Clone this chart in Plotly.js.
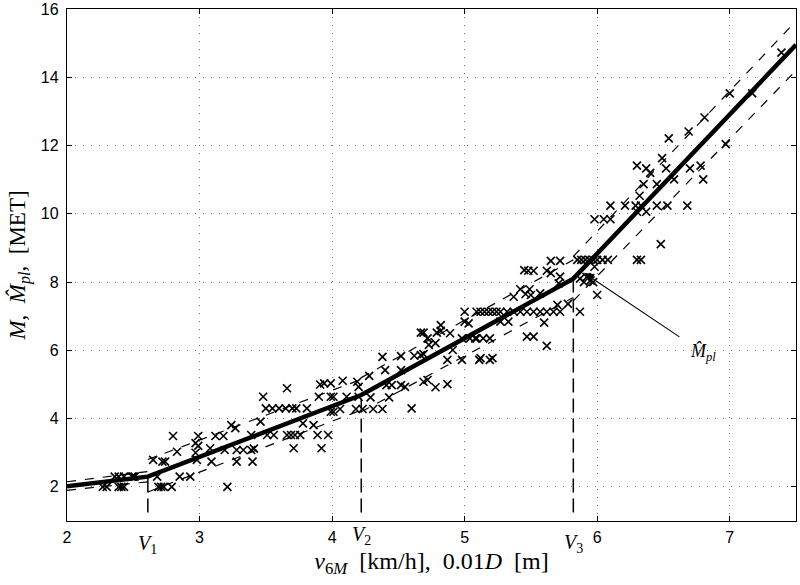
<!DOCTYPE html>
<html>
<head>
<meta charset="utf-8">
<script src="https://cdn.plot.ly/plotly-3.0.1.min.js"></script>
<style>html,body{margin:0;padding:0;background:#fff;}#chart{width:800px;height:585px;}</style>
</head>
<body>
<div id="chart"></div>
<script>
// Measured data (v6M, M)
const obsX = [
  2.27,2.30,2.39,2.41,2.43,2.36,2.39,2.43,2.49,2.50,2.51,
  2.68,2.69,2.71,2.73,2.79,2.85,2.93,2.65,2.72,2.74,2.80,2.83,2.97,2.98,2.99,2.99,2.97,
  3.08,3.09,3.12,3.18,3.19,3.21,3.24,3.27,3.28,3.28,3.33,3.39,3.41,3.40,3.39,3.46,3.48,
  3.51,3.56,3.66,3.69,3.72,3.76,3.50,3.55,3.60,3.65,3.70,3.73,3.66,3.71,3.78,3.81,3.86,3.89,3.92,3.94,3.90,3.97,3.99,3.99,3.99,3.91,
  4.01,4.01,4.06,4.08,4.11,4.18,4.19,4.20,4.20,4.23,4.28,4.29,4.31,4.38,4.38,4.40,4.41,4.43,4.45,4.52,4.52,4.52,4.55,
  4.60,4.62,4.67,4.69,4.67,4.69,4.69,4.72,4.72,4.73,4.78,4.78,4.79,4.82,4.82,4.87,4.87,4.89,4.91,4.98,4.98,5.00,5.00,
  5.03,5.04,5.09,5.14,5.19,5.08,5.12,5.21,5.11,5.19,5.09,5.12,5.15,5.18,5.21,5.24,5.27,5.32,5.37,5.42,5.47,5.27,5.33,5.37,5.42,5.46,5.49,5.47,5.45,5.48,
  5.50,5.52,5.52,5.52,5.57,5.57,5.60,5.62,5.62,5.62,5.65,5.65,5.67,5.70,5.71,5.72,5.72,5.72,5.78,5.87,5.85,5.88,5.91,5.94,5.97,6.00,6.04,6.08,5.87,5.90,5.92,5.95,5.97,5.98,6.00,5.98,
  6.05,6.10,6.10,6.21,6.29,6.33,6.45,6.53,6.68,6.30,6.37,6.30,6.33,6.48,6.32,6.35,6.45,6.58,6.80,6.30,6.37,6.40,6.52,6.70,6.78,6.49,6.54,6.69,6.81,6.97,7.00,7.17,7.39
];
const obsY = [
  2.00,2.00,2.00,2.00,2.00,2.30,2.30,2.30,2.30,2.30,2.30,
  2.30,2.00,2.00,2.00,2.00,2.30,2.30,2.79,2.74,2.74,3.49,3.03,3.28,2.79,3.20,3.49,3.00,
  3.13,2.74,3.49,3.49,3.08,2.00,3.81,3.72,3.08,2.74,3.08,3.08,3.12,2.74,3.52,3.91,4.64,
  3.52,3.52,3.52,3.52,3.52,3.52,4.30,4.30,4.30,4.30,4.30,4.30,4.89,3.13,3.86,4.30,3.81,3.52,3.13,5.03,4.64,3.52,4.64,5.03,4.20,5.00,
  4.64,4.20,4.28,5.11,4.64,4.28,5.08,4.93,4.64,4.28,5.25,4.62,4.28,4.28,5.81,5.42,4.98,4.62,4.98,4.98,5.42,5.83,4.93,
  4.30,5.84,5.86,5.89,6.52,6.52,5.08,5.13,6.35,6.16,6.21,4.92,6.52,6.57,6.74,5.01,5.72,6.50,6.01,5.72,6.35,7.13,6.84,
  6.79,6.35,6.35,6.35,6.35,6.35,5.77,5.77,5.72,5.72,7.13,7.13,7.13,7.13,7.13,7.13,7.13,7.13,7.13,7.13,7.13,6.84,6.84,7.57,7.79,7.65,7.79,6.40,8.35,8.33,
  7.62,8.33,6.40,7.13,7.13,7.67,6.81,8.33,6.13,7.13,8.62,8.26,7.13,7.33,7.96,8.62,8.16,7.13,7.36,7.13,8.65,8.65,8.65,8.65,8.65,8.65,8.65,8.65,8.10,8.00,8.15,8.05,8.00,8.45,7.62,9.84,
  9.84,9.84,10.24,10.24,10.24,10.24,10.24,10.24,10.24,10.06,10.06,8.65,8.65,9.11,10.53,10.87,10.87,11.01,11.01,11.41,11.33,11.20,11.33,11.33,11.41,11.63,12.21,12.41,12.82,12.04,13.53,13.53,14.72
];
// Piecewise-linear fit M_pl
const fitX = [2.0, 2.61, 4.22, 5.82, 7.5];
const fitY = [2.02, 2.3, 4.69, 8.1, 14.95];
// Confidence bands (per segment, separated by null)
const bandX     = [2.0, 2.61, null, 2.61, 4.22, null, 4.22, 5.82, null, 5.82, 7.5];
const bandUpper = [2.15, 2.45, null, 2.8, 5.15, null, 5.2, 8.65, null, 8.75, 15.65];
const bandLower = [1.9, 2.15, null, 1.85, 4.25, null, 4.2, 7.55, null, 7.45, 14.2];
// Breakpoints
const breakX = [2.61, 4.22, 5.82];
const breakY = [2.3, 4.69, 8.1];
const breakLabels = ['1', '2', '3'];
const breakBottom = 1.25;
const xTicks = [2, 3, 4, 5, 6, 7];
const yTicks = [2, 4, 6, 8, 10, 12, 14, 16];

const serif = 'Liberation Serif, DejaVu Serif, serif';
const sans = 'Liberation Sans, Arial, sans-serif';

const traces = [];
traces.push({x: obsX, y: obsY, mode: 'markers', type: 'scatter',
  marker: {symbol: 'x-thin-open', size: 8, color: '#000', line: {color: '#000', width: 1.6}},
  hoverinfo: 'skip'});
traces.push({x: bandX, y: bandUpper, mode: 'lines', type: 'scatter', connectgaps: false,
  line: {color: '#000', width: 1.2, dash: '9px,9px'}});
traces.push({x: bandX, y: bandLower, mode: 'lines', type: 'scatter', connectgaps: false,
  line: {color: '#000', width: 1.2, dash: '9px,9px'}});
breakX.forEach((bx, i) => {
  traces.push({x: [bx, bx], y: [breakBottom, breakY[i]], mode: 'lines', type: 'scatter',
    line: {color: '#000', width: 1.5, dash: '14px,6px'}});
});
traces.push({x: fitX, y: fitY, mode: 'lines', type: 'scatter',
  line: {color: '#000', width: 4.5}});

const labelShift = [-23, -14, -22];
const annotations = breakX.map((bx, i) => ({
  x: bx, y: 0, xref: 'x', yref: 'paper', yshift: labelShift[i], showarrow: false,
  text: '<i>V</i><sub>' + breakLabels[i] + '</sub>', font: {family: serif, size: 20, color: '#000'},
  xanchor: 'center', yanchor: 'middle'
}));
annotations.push({x: 5.9, y: 8.27, xref: 'x', yref: 'y', ax: 97, ay: 65, text: '',
  showarrow: true, arrowhead: 2, arrowsize: 1.8, arrowwidth: 1.1, arrowcolor: '#000'});
annotations.push({x: 6.8, y: 5.95, xref: 'x', yref: 'y', showarrow: false,
  text: '<i>M\u0302</i><sub><i>pl</i></sub>', font: {family: serif, size: 18, color: '#000'}});

const gridDash = '1px,7px';
const layout = {
  width: 800, height: 585,
  margin: {l: 67, r: 4, t: 9, b: 64},
  paper_bgcolor: '#fff', plot_bgcolor: '#fff',
  showlegend: false,
  xaxis: {range: [2, 7.5], tickvals: xTicks, ticktext: xTicks.map(String),
    ticks: 'inside', ticklen: 5, tickcolor: '#000', showline: true, linecolor: '#000', linewidth: 1.2,
    mirror: 'ticks', showgrid: true, gridcolor: '#777', griddash: gridDash, gridwidth: 1,
    zeroline: false, tickfont: {family: sans, size: 16, color: '#000'}, ticklabelstandoff: 2,
    title: {text: '<i>v</i><sub>6<i>M</i></sub>  [km/h],  0.01<i>D</i>  [m]', font: {family: serif, size: 24, color: '#000'}, standoff: 6}},
  yaxis: {range: [1, 16], tickvals: yTicks, ticktext: yTicks.map(String),
    ticks: 'inside', ticklen: 5, tickcolor: '#000', showline: true, linecolor: '#000', linewidth: 1.2,
    mirror: 'ticks', showgrid: true, gridcolor: '#777', griddash: gridDash, gridwidth: 1,
    zeroline: false, tickfont: {family: sans, size: 16, color: '#000'}, ticklabelstandoff: 4,
    title: {text: '<i>M</i>,  <i>M\u0302</i><sub><i>pl</i></sub>,  [MET]', font: {family: serif, size: 23, color: '#000'}, standoff: 8}},
  annotations: annotations
};
Plotly.newPlot('chart', traces, layout, {staticPlot: true, displayModeBar: false});
</script>
</body>
</html>
